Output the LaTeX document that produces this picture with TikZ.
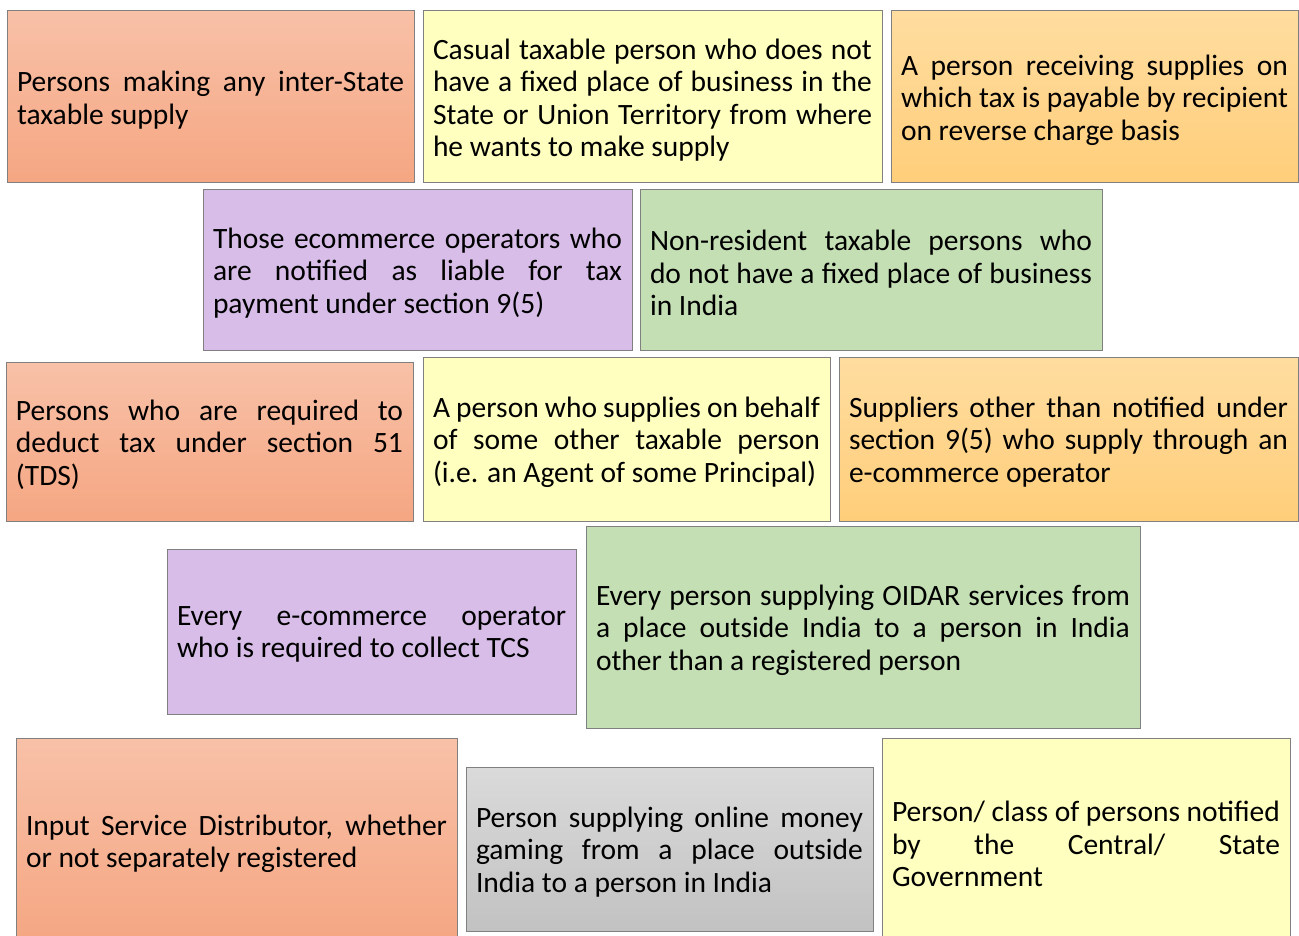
\documentclass[tikz,border=0pt]{standalone}
\usepackage{fontspec}
\setmainfont{Carlito}
\usetikzlibrary{shadings}
\definecolor{orTop}{RGB}{248,193,168}
\definecolor{orBot}{RGB}{245,166,130}
\definecolor{yel}{RGB}{255,255,192}
\definecolor{loTop}{RGB}{255,221,160}
\definecolor{loBot}{RGB}{255,206,122}
\definecolor{pur}{RGB}{215,189,232}
\definecolor{grn}{RGB}{196,223,180}
\definecolor{gryTop}{RGB}{218,218,218}
\definecolor{gryBot}{RGB}{194,194,194}
\definecolor{bord}{RGB}{128,128,128}
\newcommand\boxtextsetup{\hyphenpenalty=10000 \exhyphenpenalty=10000 \tolerance=10000 \relax}
\tikzset{
  box/.style={draw=bord, line width=1pt, inner sep=0pt, anchor=center},
  txt/.style={inner sep=0pt, align=justify, anchor=center,
    font=\fontsize{29.5}{32.5}\selectfont\boxtextsetup},
  orangebox/.style={box, top color=orTop, bottom color=orBot},
  yellowbox/.style={box, fill=yel},
  lorangebox/.style={box, top color=loTop, bottom color=loBot},
  purplebox/.style={box, fill=pur},
  greenbox/.style={box, fill=grn},
  greybox/.style={box, top color=gryTop, bottom color=gryBot}
}
\begin{document}
\begin{tikzpicture}[x=1pt,y=-1pt]
\useasboundingbox (0,0) rectangle (1299,936);
\clip (0,0) rectangle (1299,936);
\fill[white] (0,0) rectangle (1299,936);

\node[orangebox, minimum width=407pt, minimum height=172pt] (a) at (210.5,97) {};
\node[txt, text width=387pt] (at) at ([yshift=-3pt]a.center)
 {Persons making any inter-State\linebreak taxable supply};
\node[yellowbox, minimum width=459pt, minimum height=172pt] (b) at (652.5,97) {};
\node[txt, text width=439pt] (bt) at ([yshift=-3pt]b.center)
 {Casual taxable person who does not\linebreak have a fixed place of business in the\linebreak State or Union Territory from where\linebreak he wants to make supply};
\node[lorangebox, minimum width=407pt, minimum height=172pt] (c) at (1094.5,97) {};
\node[txt, text width=387pt] (ct) at ([yshift=-3pt]c.center)
 {A person receiving supplies on\linebreak which tax is payable by recipient\linebreak on reverse charge basis};

\node[purplebox, minimum width=429pt, minimum height=160pt] (d) at (417.5,270) {};
\node[txt, text width=409pt] (dt) at ([yshift=-3pt]d.center)
 {Those ecommerce operators who\linebreak are notified as liable for tax\linebreak payment under section 9(5)};
\node[greenbox, minimum width=462pt, minimum height=160pt] (e) at (871,270) {};
\node[txt, text width=442pt] (et) at ([yshift=-3pt]e.center)
 {Non-resident taxable persons who\linebreak do not have a fixed place of business\linebreak in India};

\node[orangebox, minimum width=407pt, minimum height=159pt] (f) at (209.5,441.5) {};
\node[txt, text width=387pt] (ft) at ([yshift=-3pt]f.center)
 {Persons who are required to\linebreak deduct tax under section 51\linebreak (TDS)};
\node[yellowbox, minimum width=407pt, minimum height=164pt] (g) at (626.5,439) {};
\node[txt, text width=387pt] (gt) at ([yshift=-3pt]g.center)
 {A person who supplies on behalf\linebreak of some other taxable person\linebreak (i.e. an Agent of some Principal)};
\node[lorangebox, minimum width=459pt, minimum height=164pt] (h) at (1068.5,439) {};
\node[txt, text width=439pt] (ht) at ([yshift=-3pt]h.center)
 {Suppliers other than notified under\linebreak section 9(5) who supply through an\linebreak e-commerce operator};

\node[purplebox, minimum width=409pt, minimum height=165pt] (i) at (371.5,631.5) {};
\node[txt, text width=389pt] (it) at ([yshift=-3pt]i.center)
 {Every e-commerce operator\linebreak who is required to collect TCS};
\node[greenbox, minimum width=554pt, minimum height=202pt] (j) at (863,627) {};
\node[txt, text width=534pt] (jt) at ([yshift=-3pt]j.center)
 {Every person supplying OIDAR services from\linebreak a place outside India to a person in India\linebreak other than a registered person};

\node[orangebox, minimum width=441pt, minimum height=206pt] (k) at (236.5,841) {};
\node[txt, text width=421pt] (kt) at ([yshift=-3pt]k.center)
 {Input Service Distributor, whether\linebreak or not separately registered};
\node[greybox, minimum width=407pt, minimum height=164pt] (l) at (669.5,849) {};
\node[txt, text width=387pt] (lt) at ([yshift=-3pt]l.center)
 {Person supplying online money\linebreak gaming from a place outside\linebreak India to a person in India};
\node[yellowbox, minimum width=408pt, minimum height=206pt] (m) at (1086,841) {};
\node[txt, text width=388pt] (mt) at ([yshift=-3pt]m.center)
 {Person/ class of persons notified\linebreak by the Central/ State\linebreak Government};
\end{tikzpicture}
\end{document}
